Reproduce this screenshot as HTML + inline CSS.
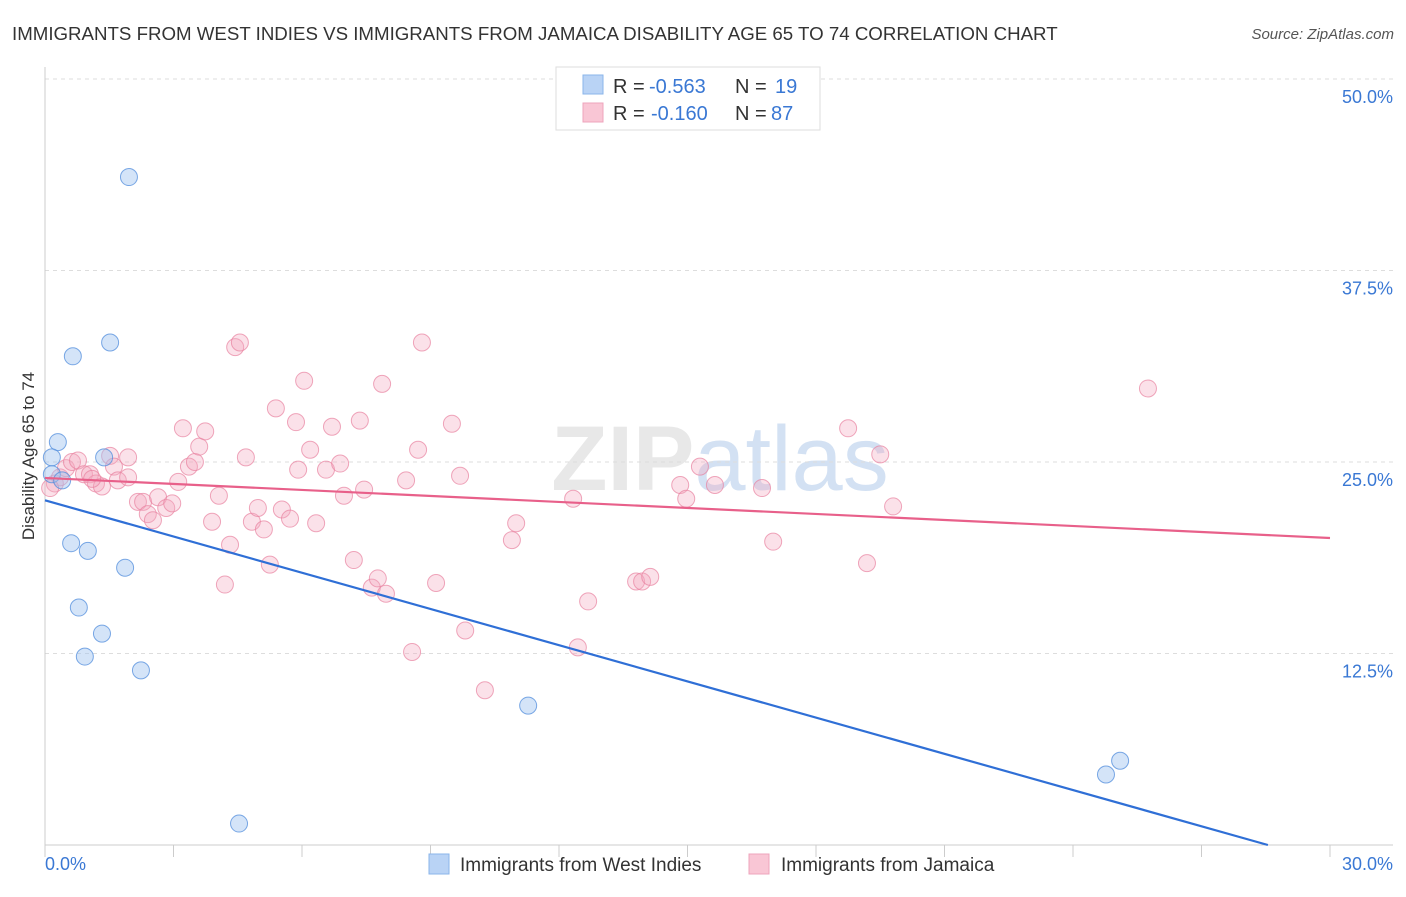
<!DOCTYPE html>
<html><head><meta charset="utf-8"><style>
body{margin:0;background:#fff;font-family:"Liberation Sans",sans-serif;}
svg text{font-family:"Liberation Sans",sans-serif;}
</style></head><body>
<svg id="chart" width="1406" height="892" xmlns="http://www.w3.org/2000/svg">
<text x="12" y="40" font-size="18.7" fill="#333">IMMIGRANTS FROM WEST INDIES VS IMMIGRANTS FROM JAMAICA DISABILITY AGE 65 TO 74 CORRELATION CHART</text>
<text x="1394" y="39" font-size="15" fill="#555" text-anchor="end" font-style="italic">Source: ZipAtlas.com</text>
<text x="720" y="490" font-size="92" fill="#e8e8e8" text-anchor="middle" font-weight="bold" font-family="Liberation Serif">ZIP<tspan fill="#d3e1f3" font-weight="normal" font-family="Liberation Sans">atlas</tspan></text>
<g id="grid"></g>
<g id="axes"></g>
<g id="pts"></g>
<g id="lines"></g>
<text transform="translate(34,456) rotate(-90)" font-size="17" fill="#333" text-anchor="middle">Disability Age 65 to 74</text>
<g>
<rect x="556" y="67" width="264" height="63" fill="#fff" stroke="#ddd"/>
<rect x="583" y="75" width="20" height="19" fill="#b9d3f5" stroke="#8ab4ea"/>
<rect x="583" y="103" width="20" height="19" fill="#f9c6d5" stroke="#eea4bc"/>
<text x="613" y="93" font-size="20" fill="#333">R =</text>
<text x="649" y="93" font-size="20" fill="#3a78d4">-0.563</text>
<text x="735" y="93" font-size="20" fill="#333">N =</text>
<text x="775" y="93" font-size="20" fill="#3a78d4">19</text>
<text x="613" y="120" font-size="20" fill="#333">R =</text>
<text x="651" y="120" font-size="20" fill="#3a78d4">-0.160</text>
<text x="735" y="120" font-size="20" fill="#333">N =</text>
<text x="771" y="120" font-size="20" fill="#3a78d4">87</text>
</g>
<g>
<rect x="429" y="854" width="20" height="20" fill="#b9d3f5" stroke="#8ab4ea"/>
<text x="460" y="871" font-size="19" fill="#333">Immigrants from West Indies</text>
<rect x="749" y="854" width="20" height="20" fill="#f9c6d5" stroke="#eea4bc"/>
<text x="781" y="871" font-size="19" fill="#333">Immigrants from Jamaica</text>
</g>
</svg>
<script>
const xTicks=[0,3,6,9,12,15,18,21,24,27,30];
const yTicks=[12.5,25,37.5,50];
const yTickLabels=["12.5%","25.0%","37.5%","50.0%"];
const blueX=[1.96,0.65,1.52,0.30,0.16,0.16,0.40,1.38,0.61,1.00,1.87,0.79,1.33,0.93,2.24,11.28,24.77,25.1,4.53];
const blueY=[43.6,31.9,32.8,26.3,25.3,24.2,23.8,25.3,19.7,19.2,18.1,15.5,13.8,12.3,11.4,9.1,4.6,5.5,1.4];
const pinkX=[0.23,0.35,0.49,0.63,0.77,0.91,1.05,1.19,1.33,1.52,1.61,1.70,1.94,1.94,2.17,2.29,2.40,2.52,2.64,2.83,2.97,3.11,3.22,3.36,3.50,3.60,3.74,3.90,4.06,4.20,4.32,4.44,4.55,4.69,4.83,4.97,5.11,5.25,5.39,5.53,5.72,5.86,5.91,6.05,6.19,6.33,6.56,6.70,6.89,6.98,7.21,7.35,7.45,7.63,7.77,7.87,7.96,8.43,8.57,8.71,8.80,9.13,9.50,9.69,9.81,10.27,10.90,11.00,12.33,12.44,12.68,13.80,13.94,14.13,14.83,14.97,15.29,15.64,16.74,17.00,18.75,19.19,19.50,19.80,25.75,0.12,1.10];
const pinkY=[23.6,24.0,24.6,25.0,25.1,24.2,24.2,23.6,23.4,25.4,24.7,23.8,25.3,24.0,22.4,22.4,21.6,21.2,22.7,22.0,22.3,23.7,27.2,24.7,25.0,26.0,27.0,21.1,22.8,17.0,19.6,32.5,32.8,25.3,21.1,22.0,20.6,18.3,28.5,21.9,21.3,27.6,24.5,30.3,25.8,21.0,24.5,27.3,24.9,22.8,18.6,27.7,23.2,16.8,17.4,30.1,16.4,23.8,12.6,25.8,32.8,17.1,27.5,24.1,14.0,10.1,19.9,21.0,22.6,12.9,15.9,17.2,17.2,17.5,23.5,22.6,24.7,23.5,23.3,19.8,27.2,18.4,25.5,22.1,29.8,23.3,23.9];
const blueLine=[[0,22.5],[28.55,0]];
const pinkLine=[[0,23.96],[30,20.04]];
const X0=45,X1=1330,Y0=845,PY=15.32;
const sx=v=>X0+(X1-X0)*v/30, sy=v=>Y0-v*PY;
const NS="http://www.w3.org/2000/svg";
function mk(t,a,p){const e=document.createElementNS(NS,t);for(const k in a)e.setAttribute(k,a[k]);document.getElementById(p).appendChild(e);return e;}
yTicks.forEach((t,i)=>{
 const l=mk('line',{x1:X0,x2:1393,y1:sy(t),y2:sy(t),stroke:'#ddd','stroke-dasharray':'4,4'},'grid');
 
 
 const tx=mk('text',{x:1393,y:sy(t)+24,'font-size':18,fill:'#3a78d4','text-anchor':'end'},'grid');
 tx.textContent=yTickLabels[i];
 
 
});
const ya=mk('line',{x1:X0,x2:X0,y1:67,y2:Y0,stroke:'#ccc'},'axes');


const xa=mk('line',{x1:X0,x2:1393,y1:Y0,y2:Y0,stroke:'#ccc'},'axes');


xTicks.forEach(t=>{
 const l=mk('line',{x1:sx(t),x2:sx(t),y1:Y0,y2:Y0+12,stroke:'#ccc'},'axes');
 
 
});
const xl0=mk('text',{x:45,y:870,'font-size':18,fill:'#3a78d4'},'axes');xl0.textContent='0.0%';


const xl1=mk('text',{x:1393,y:870,'font-size':18,fill:'#3a78d4','text-anchor':'end'},'axes');xl1.textContent='30.0%';


pinkX.forEach((x,i)=>{
 const c=mk('circle',{cx:sx(x),cy:sy(pinkY[i]),r:8.5,fill:'rgba(244,170,192,0.35)',stroke:'rgba(232,130,160,0.7)','stroke-width':1},'pts');
 
 
});
blueX.forEach((x,i)=>{
 const c=mk('circle',{cx:sx(x),cy:sy(blueY[i]),r:8.5,fill:'rgba(160,195,240,0.45)',stroke:'rgba(80,140,220,0.75)','stroke-width':1},'pts');
 
 
});
const bl=mk('line',{x1:sx(blueLine[0][0]),y1:sy(blueLine[0][1]),x2:sx(blueLine[1][0]),y2:sy(blueLine[1][1]),stroke:'#2f6fd6','stroke-width':2.2},'lines');


const pl=mk('line',{x1:sx(pinkLine[0][0]),y1:sy(pinkLine[0][1]),x2:sx(pinkLine[1][0]),y2:sy(pinkLine[1][1]),stroke:'#e8608a','stroke-width':2.2},'lines');


</script>
</body></html>
